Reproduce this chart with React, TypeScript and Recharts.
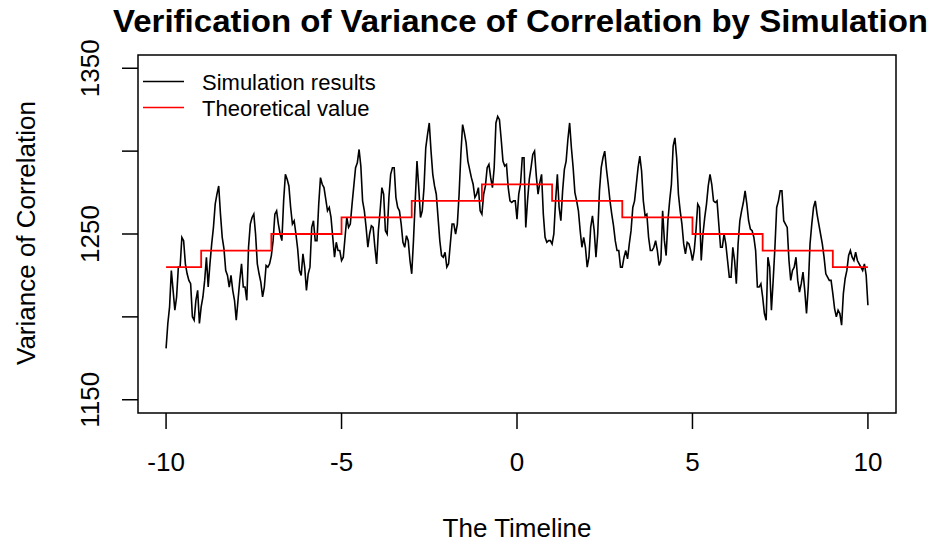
import { LineChart, Line, XAxis, YAxis, ReferenceArea } from 'recharts';

// simulated path, one reading every 0.05 on the timeline from -10 to 10 (20 per row)
const simStart = -10;
const simStep = 0.05;
const simValues = [
  1181, 1196, 1206, 1228, 1216, 1204, 1212, 1230, 1230, 1248, 1246, 1232, 1226, 1222, 1220, 1200, 1198, 1210, 1216, 1196,
  1206, 1212, 1222, 1236, 1218, 1232, 1244, 1254, 1268, 1274, 1279, 1262, 1248, 1241, 1228, 1225, 1218, 1225, 1216, 1210,
  1198, 1210, 1222, 1232, 1218, 1218, 1210, 1242, 1256, 1260, 1262, 1250, 1232, 1226, 1221, 1212, 1218, 1231, 1230, 1232,
  1237, 1246, 1262, 1264, 1256, 1250, 1246, 1270, 1286, 1283, 1279, 1266, 1256, 1258, 1250, 1241, 1228, 1225, 1238, 1230,
  1216, 1226, 1230, 1254, 1258, 1246, 1246, 1268, 1284, 1280, 1278, 1271, 1264, 1266, 1260, 1248, 1236, 1245, 1240, 1240,
  1234, 1236, 1248, 1260, 1254, 1256, 1268, 1279, 1290, 1293, 1301, 1291, 1270, 1264, 1254, 1242, 1250, 1255, 1254, 1242,
  1232, 1252, 1264, 1278, 1274, 1252, 1250, 1272, 1286, 1290, 1290, 1272, 1266, 1264, 1256, 1245, 1242, 1249, 1246, 1234,
  1226, 1246, 1270, 1294, 1278, 1260, 1264, 1278, 1302, 1310, 1317, 1300, 1286, 1279, 1274, 1260, 1246, 1237, 1236, 1239,
  1230, 1232, 1244, 1256, 1256, 1250, 1256, 1274, 1298, 1316, 1311, 1305, 1294, 1289, 1284, 1280, 1272, 1274, 1278, 1264,
  1262, 1274, 1279, 1290, 1292, 1284, 1278, 1290, 1317, 1321, 1319, 1307, 1294, 1291, 1292, 1278, 1270, 1269, 1270, 1270,
  1259, 1274, 1280, 1296, 1296, 1254, 1270, 1283, 1290, 1298, 1300, 1285, 1274, 1281, 1286, 1262, 1248, 1245, 1246, 1246,
  1244, 1250, 1270, 1286, 1266, 1258, 1276, 1289, 1294, 1307, 1317, 1302, 1290, 1275, 1270, 1264, 1252, 1242, 1248, 1242,
  1230, 1236, 1254, 1261, 1252, 1236, 1250, 1276, 1290, 1296, 1300, 1289, 1280, 1270, 1262, 1255, 1246, 1240, 1240, 1230,
  1230, 1236, 1240, 1235, 1244, 1252, 1266, 1270, 1280, 1290, 1297, 1288, 1270, 1261, 1262, 1248, 1240, 1240, 1242, 1246,
  1240, 1231, 1234, 1264, 1246, 1237, 1258, 1270, 1280, 1303, 1308, 1296, 1274, 1264, 1256, 1244, 1238, 1245, 1244, 1240,
  1234, 1240, 1252, 1268, 1266, 1234, 1250, 1260, 1268, 1279, 1286, 1280, 1270, 1269, 1270, 1256, 1242, 1242, 1250, 1244,
  1234, 1224, 1224, 1242, 1234, 1220, 1244, 1258, 1264, 1269, 1276, 1268, 1258, 1253, 1252, 1248, 1240, 1218, 1218, 1220,
  1212, 1202, 1198, 1236, 1230, 1204, 1222, 1242, 1266, 1270, 1276, 1276, 1258, 1256, 1254, 1234, 1222, 1228, 1230, 1236,
  1222, 1215, 1220, 1227, 1216, 1202, 1218, 1244, 1256, 1266, 1270, 1262, 1256, 1250, 1244, 1236, 1226, 1224, 1222, 1222,
  1214, 1205, 1200, 1204, 1202, 1195, 1214, 1223, 1228, 1237, 1240, 1236, 1234, 1239, 1234, 1232, 1230, 1228, 1232, 1225,
  1207,
];

// theoretical value, held constant from each time until the next
const stepTimes = [-10, -9, -7, -5, -3, -1, 1, 3, 5, 7, 9, 10];
const stepValues = [1230, 1240, 1250, 1260, 1270, 1280, 1270, 1260, 1250, 1240, 1230, 1230];

const xTicks = [-10, -5, 0, 5, 10];
const yTicks = [1150, 1200, 1250, 1300, 1350];
const yLabelled = [1150, 1250, 1350];

const FONT = '"Liberation Sans", Arial, Helvetica, sans-serif';
const X_DOMAIN: [number, number] = [-10.8, 10.8];
const Y_DOMAIN: [number, number] = [1142, 1358];

const simData = simValues.map((v, i) => ({ t: +(simStart + i * simStep).toFixed(2), v }));
const stepData = stepTimes.map((t, i) => ({ t, v: stepValues[i] }));

const XTick = (props: any) => {
  const { x, payload } = props;
  return (
    <text x={x} y={471} textAnchor="middle" fontSize={26} fontFamily={FONT} fill="#000">
      {payload.value}
    </text>
  );
};

const YTick = (props: any) => {
  const { y, payload } = props;
  if (!yLabelled.includes(payload.value)) return <g />;
  return (
    <text
      x={99}
      y={y}
      transform={`rotate(-90 99 ${y})`}
      textAnchor="middle"
      fontSize={26}
      fontFamily={FONT}
      fill="#000"
    >
      {payload.value}
    </text>
  );
};

export default function App() {
  return (
    <div style={{ position: 'absolute', left: 0, top: 0, width: 933, height: 546, background: '#fff' }}>
      <LineChart
        width={933}
        height={546}
        data={simData}
        margin={{ top: 55, right: 37, bottom: 0, left: 0 }}
      >
        <XAxis
          dataKey="t"
          type="number"
          domain={X_DOMAIN}
          ticks={xTicks}
          allowDataOverflow
          height={133}
          tickSize={16}
          axisLine={false}
          tickLine={{ stroke: '#000', strokeWidth: 1.5 }}
          tick={<XTick />}
          interval={0}
        />
        <YAxis
          type="number"
          domain={Y_DOMAIN}
          ticks={yTicks}
          allowDataOverflow
          width={138}
          tickSize={16}
          axisLine={false}
          tickLine={{ stroke: '#000', strokeWidth: 1.5 }}
          tick={<YTick />}
          interval={0}
        />
        <Line
          dataKey="v"
          type="linear"
          stroke="#000"
          strokeWidth={1.6}
          dot={false}
          isAnimationActive={false}
        />
        <Line
          data={stepData}
          dataKey="v"
          type="stepAfter"
          stroke="#ff0000"
          strokeWidth={1.8}
          dot={false}
          isAnimationActive={false}
        />
        <ReferenceArea
          x1={X_DOMAIN[0]}
          x2={X_DOMAIN[1]}
          y1={Y_DOMAIN[0]}
          y2={Y_DOMAIN[1]}
          fill="none"
          stroke="#000"
          strokeWidth={1.5}
          ifOverflow="visible"
        />
      </LineChart>

      <svg
        width={933}
        height={546}
        style={{ position: 'absolute', left: 0, top: 0, pointerEvents: 'none' }}
        fontFamily={FONT}
      >
        <text
          x={113}
          y={32}
          fontSize={31}
          fontWeight="bold"
          fill="#000"
          textLength={815}
          lengthAdjust="spacingAndGlyphs"
        >
          Verification of Variance of Correlation by Simulation
        </text>
        <text x={517} y={537} textAnchor="middle" fontSize={26} fill="#000">
          The Timeline
        </text>
        <text x={35} y={233} textAnchor="middle" fontSize={26} fill="#000" transform="rotate(-90 35 233)">
          Variance of Correlation
        </text>

        {/* legend, no frame */}
        <line x1={143} x2={184} y1={81.5} y2={81.5} stroke="#000" strokeWidth={1.5} />
        <text x={202} y={90} fontSize={22} fill="#000">Simulation results</text>
        <line x1={143} x2={184} y1={107.5} y2={107.5} stroke="#ff0000" strokeWidth={1.5} />
        <text x={202} y={116} fontSize={22} fill="#000">Theoretical value</text>
      </svg>
    </div>
  );
}
